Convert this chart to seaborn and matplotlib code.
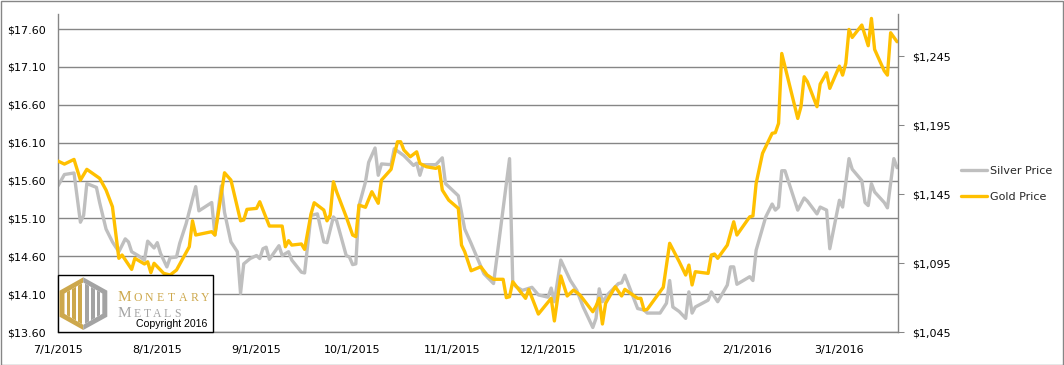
import matplotlib
matplotlib.use("Agg")
import matplotlib.pyplot as plt
import seaborn as sns
import pandas as pd
from matplotlib.patches import Polygon, Rectangle
from matplotlib.lines import Line2D

START = pd.Timestamp("2015-07-01")

# days after 7/1/2015
silver_days = [0, 2, 5, 7, 8, 9, 12, 13, 15, 17, 19, 21, 22, 23, 25, 27, 28, 30, 31, 32,
               34, 35, 37, 38, 40, 43, 44, 48, 49, 51, 52, 54, 56, 57, 58, 60, 62, 63, 64, 65,
               66, 69, 70, 72, 73, 76, 77, 79, 81, 83, 84, 86, 87, 90, 91, 92, 93, 94, 96, 97,
               99, 100, 101, 104, 105, 108, 111, 112, 113, 114, 118, 120, 121, 125, 127, 129, 133, 136, 141, 142,
               143, 145, 148, 150, 153, 154, 155, 157, 160, 162, 164, 167, 168, 169, 170, 172, 175, 176, 177, 180,
               181, 183, 184, 188, 190, 191, 192, 194, 196, 197, 198, 199, 203, 204, 206, 209, 210, 211, 212, 216,
               217, 218, 221, 223, 224, 225, 226, 227, 231, 233, 234, 237, 238, 240, 241, 244, 245, 247, 248, 251,
               252, 253, 254, 255, 258, 259, 261, 262]
silver_price = [15.53, 15.68, 15.70, 15.05, 15.14, 15.56, 15.51, 15.31, 14.96, 14.79, 14.66, 14.83, 14.79, 14.66, 14.61, 14.55, 14.80, 14.71, 14.78, 14.64,
                14.46, 14.58, 14.59, 14.77, 15.03, 15.52, 15.20, 15.31, 14.88, 15.53, 15.18, 14.79, 14.66, 14.11, 14.50, 14.57, 14.61, 14.57, 14.70, 14.72,
                14.56, 14.74, 14.61, 14.66, 14.55, 14.39, 14.38, 15.14, 15.16, 14.79, 14.78, 15.12, 15.07, 14.61, 14.59, 14.49, 14.50, 15.27, 15.58, 15.84,
                16.03, 15.67, 15.82, 15.81, 16.02, 15.93, 15.80, 15.83, 15.67, 15.81, 15.81, 15.90, 15.56, 15.40, 14.96, 14.77, 14.37, 14.24, 15.89, 14.26,
                14.20, 14.15, 14.19, 14.09, 14.06, 14.18, 14.00, 14.55, 14.28, 14.15, 13.93, 13.66, 13.78, 14.17, 14.00, 14.11, 14.24, 14.25, 14.35, 14.02,
                13.91, 13.89, 13.85, 13.85, 13.98, 14.28, 13.93, 13.87, 13.78, 14.13, 13.85, 13.93, 14.02, 14.13, 14.00, 14.22, 14.46, 14.46, 14.23, 14.33,
                14.28, 14.68, 15.12, 15.29, 15.21, 15.25, 15.73, 15.73, 15.21, 15.37, 15.33, 15.16, 15.25, 15.21, 14.70, 15.34, 15.25, 15.89, 15.75, 15.60,
                15.31, 15.27, 15.56, 15.45, 15.31, 15.24, 15.89, 15.77]

gold_days = [0, 2, 5, 7, 9, 13, 15, 17, 19, 20, 23, 24, 27, 28, 29, 30, 33, 35, 37, 41,
             42, 43, 48, 49, 52, 54, 57, 58, 59, 62, 63, 66, 70, 71, 72, 73, 76, 77, 79, 80,
             83, 84, 85, 86, 87, 90, 91, 92, 93, 94, 96, 98, 100, 101, 104, 106, 107, 108, 110, 112,
             113, 115, 118, 119, 120, 122, 125, 126, 127, 129, 132, 134, 136, 139, 140, 141, 142, 146, 147, 150,
             154, 155, 157, 159, 161, 163, 167, 168, 169, 170, 171, 174, 176, 177, 181, 182, 183, 184, 189, 191,
             194, 196, 197, 198, 199, 203, 204, 205, 206, 209, 211, 212, 216, 217, 218, 220, 223, 224, 225, 226,
             231, 232, 233, 234, 237, 238, 240, 241, 244, 245, 246, 247, 248, 251, 253, 254, 255, 258, 259, 260,
             262]
gold_price = [1168.9, 1166.7, 1170.1, 1155.1, 1162.9, 1156.4, 1147.9, 1135.8, 1098.4, 1100.8, 1090.4, 1098.4, 1094.3, 1095.9, 1088.0, 1094.8, 1087.5, 1086.3, 1089.9, 1106.8,
              1125.6, 1115.3, 1117.7, 1115.3, 1160.4, 1155.1, 1125.6, 1126.2, 1133.9, 1134.6, 1139.4, 1121.8, 1121.8, 1106.8, 1111.2, 1108.0, 1108.8, 1104.9, 1130.5, 1138.7,
              1133.4, 1125.6, 1129.8, 1153.9, 1146.7, 1128.5, 1121.8, 1115.3, 1114.1, 1137.0, 1135.4, 1146.7, 1138.3, 1155.1, 1162.9, 1182.9, 1182.9, 1176.9, 1172.0, 1175.6,
              1167.2, 1164.8, 1163.6, 1164.8, 1147.9, 1140.6, 1134.6, 1108.0, 1103.2, 1089.4, 1092.3, 1086.3, 1083.2, 1083.2, 1069.9, 1070.6, 1081.4, 1069.4, 1075.9, 1058.0,
              1069.4, 1053.0, 1085.6, 1071.1, 1075.4, 1071.8, 1059.7, 1063.8, 1069.4, 1050.8, 1065.8, 1077.8, 1071.1, 1075.9, 1069.4, 1069.4, 1060.9, 1061.4, 1077.4, 1109.3,
              1095.9, 1086.3, 1093.5, 1079.1, 1088.7, 1087.5, 1100.8, 1101.5, 1098.4, 1108.0, 1124.9, 1115.3, 1128.5, 1129.1, 1152.7, 1174.5, 1189.0, 1189.5, 1196.2, 1246.9,
              1199.8, 1208.3, 1230.0, 1226.4, 1208.3, 1224.7, 1232.9, 1221.6, 1237.7, 1231.2, 1239.7, 1264.3, 1258.5, 1267.5, 1252.5, 1272.3, 1249.8, 1234.3, 1231.2, 1261.9,
              1255.4]

tick_dates = ["2015-07-01", "2015-08-01", "2015-09-01", "2015-10-01", "2015-11-01",
              "2015-12-01", "2016-01-01", "2016-02-01", "2016-03-01"]
tick_labels = ["7/1/2015", "8/1/2015", "9/1/2015", "10/1/2015", "11/1/2015",
               "12/1/2015", "1/1/2016", "2/1/2016", "3/1/2016"]
silver_ticks = [13.60, 14.10, 14.60, 15.10, 15.60, 16.10, 16.60, 17.10, 17.60]
gold_ticks = [1045, 1095, 1145, 1195, 1245]

SILVER = "#BFBFBF"
GOLD = "#FFC000"
GRID = "#868686"
W, H = 1064, 365


def fx(x):
    return x / W


def fy(y):
    return 1 - y / H


sns.set_style("white")
plt.rcParams["font.family"] = ["DejaVu Sans"]

fig = plt.figure(figsize=(W / 100, H / 100), dpi=100)
ax = fig.add_axes([fx(58), fy(332), (898 - 58) / W, (332 - 14) / H])
ax2 = ax.twinx()

silver_dates = START + pd.to_timedelta(silver_days, unit="D")
gold_dates = START + pd.to_timedelta(gold_days, unit="D")

sns.lineplot(x=silver_dates, y=silver_price, ax=ax, color=SILVER, linewidth=2.4)
sns.lineplot(x=gold_dates, y=gold_price, ax=ax2, color=GOLD, linewidth=2.4)

ax.set_xlim(START, START + pd.Timedelta(days=262.3))
ax.set_ylim(13.60, 17.80)
ax2.set_ylim(1045, 1275.5)

ax.set_yticks(silver_ticks)
ax.set_yticklabels([f"${v:.2f}" for v in silver_ticks])
ax2.set_yticks(gold_ticks)
ax2.set_yticklabels([f"${v:,.0f}" for v in gold_ticks])
ax.set_xticks(pd.to_datetime(tick_dates))
ax.set_xticklabels(tick_labels)

ax.yaxis.grid(True, color=GRID, linewidth=1.0)
ax.xaxis.grid(False)
ax.set_xlabel("")
ax.set_ylabel("")
ax2.set_ylabel("")

for s in ["top", "right"]:
    ax.spines[s].set_visible(False)
for s in ["top", "left", "bottom"]:
    ax2.spines[s].set_visible(False)
for sp in [ax.spines["left"], ax.spines["bottom"], ax2.spines["right"]]:
    sp.set_color(GRID)
    sp.set_linewidth(1.0)

ax.tick_params(axis="y", length=0, pad=9, labelsize=8, labelcolor="black")
ax.tick_params(axis="x", length=4, width=0.75, color=GRID, pad=5, labelsize=8, labelcolor="black")
ax2.tick_params(axis="y", length=4, width=0.75, color=GRID, pad=6, labelsize=8, labelcolor="black")

# legend at the right
handles = [Line2D([], [], color=SILVER, lw=2.4), Line2D([], [], color=GOLD, lw=2.4)]
fig.legend(handles, ["Silver Price", "Gold Price"], loc="upper left",
           bbox_to_anchor=(fx(961), fy(166)), frameon=False, fontsize=8,
           handlelength=2.35, handletextpad=0.3, labelspacing=1.4,
           borderpad=0, borderaxespad=0)

# logo box
fig.add_artist(Rectangle((fx(58), fy(332)), (213 - 58) / W, (332 - 275) / H,
                         transform=fig.transFigure, facecolor="white",
                         edgecolor="black", linewidth=1, zorder=5))
LOGO_GOLD = "#CDA84C"
LOGO_GRAY = "#A3A3A3"
left_half = [(83.3, 277.3), (59.5, 290.7), (59.5, 316.7), (83.3, 330)]
right_half = [(83.3, 277.3), (107.3, 290.7), (107.3, 316.7), (83.3, 330)]
inner = [(83.3, 282.5), (64.5, 293.5), (64.5, 313.8), (83.3, 324.8), (102.3, 313.8), (102.3, 293.5)]
for pts, col in [(left_half, LOGO_GOLD), (right_half, LOGO_GRAY)]:
    fig.add_artist(Polygon([(fx(a), fy(b)) for a, b in pts], closed=True,
                           transform=fig.transFigure, facecolor=col,
                           edgecolor="none", zorder=6))
inner_poly = Polygon([(fx(a), fy(b)) for a, b in inner], closed=True,
                     transform=fig.transFigure, facecolor="white",
                     edgecolor="none", zorder=7)
fig.add_artist(inner_poly)
for x0, x1, col in [(66.5, 70, LOGO_GOLD), (72, 75.5, LOGO_GOLD), (77.5, 81.5, LOGO_GOLD),
                    (85, 89, LOGO_GRAY), (91, 94.5, LOGO_GRAY), (96.5, 100, LOGO_GRAY)]:
    bar = Rectangle((fx(x0), fy(327)), (x1 - x0) / W, (327 - 280) / H,
                    transform=fig.transFigure, facecolor=col, edgecolor="none", zorder=8)
    fig.add_artist(bar)
    bar.set_clip_path(inner_poly)

serif = "Liberation Serif"
fig.text(fx(124), fy(300.7), "M", fontsize=11, family=serif, color=LOGO_GOLD,
         ha="center", va="baseline", zorder=9)
for i, ch in enumerate("ONETARY"):
    fig.text(fx(137.6 + i * 11.3), fy(300.7), ch, fontsize=8.5, family=serif,
             color=LOGO_GOLD, ha="center", va="baseline", zorder=9)
fig.text(fx(124), fy(316.7), "M", fontsize=11, family=serif, color=LOGO_GRAY,
         ha="center", va="baseline", zorder=9)
for i, ch in enumerate("ETALS"):
    fig.text(fx(137 + i * 10.2), fy(316.7), ch, fontsize=8.5, family=serif,
             color=LOGO_GRAY, ha="center", va="baseline", zorder=9)
fig.text(fx(136), fy(327.3), "Copyright 2016", fontsize=7.6, family="Liberation Sans",
         color="black", ha="left", va="baseline", zorder=9)

# outer border
fig.add_artist(Rectangle((0.5 / W, 0.5 / H), 1 - 1.5 / W, 1 - 1.5 / H,
                         transform=fig.transFigure, fill=False,
                         edgecolor=GRID, linewidth=1, zorder=10))

fig.savefig("out.png", dpi=100)
plt.close(fig)
